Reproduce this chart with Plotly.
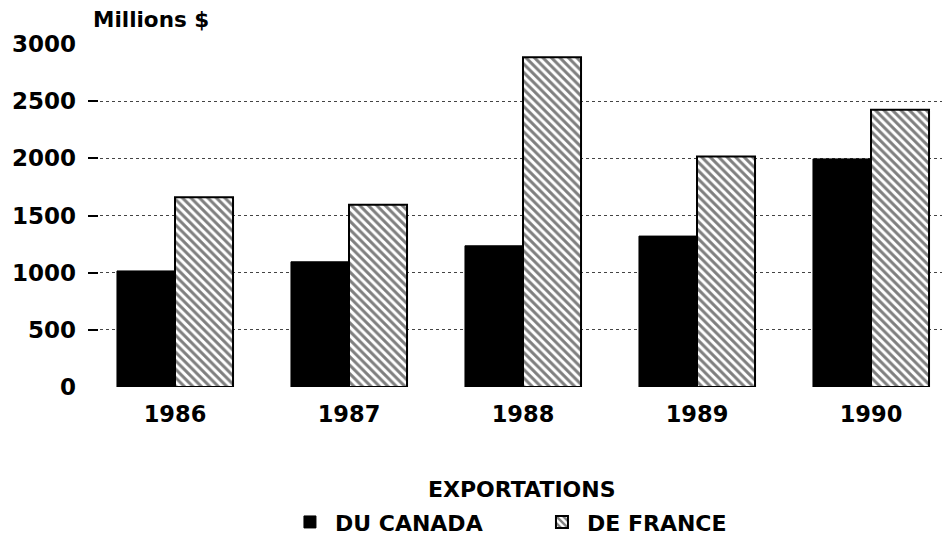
import plotly.graph_objects as go

years = ["1986", "1987", "1988", "1989", "1990"]
canada = [1015, 1095, 1235, 1320, 1995]
france = [1660, 1595, 2885, 2015, 2425]
y_ticks = [0, 500, 1000, 1500, 2000, 2500, 3000]

FONT = "DejaVu Sans"

fig = go.Figure()
fig.add_trace(go.Bar(
    x=years, y=canada, name="DU CANADA",
    marker=dict(color="black", line=dict(color="black", width=1)),
))
fig.add_trace(go.Bar(
    x=years, y=france, name="DE FRANCE",
    marker=dict(color="white", line=dict(color="black", width=2),
                pattern=dict(shape="\\", size=6, solidity=0.5,
                             fgcolor="black", bgcolor="white")),
))

fig.update_layout(
    width=950, height=551,
    margin=dict(l=80, r=0, t=36, b=172),
    paper_bgcolor="white", plot_bgcolor="white",
    barmode="group", bargap=0.333, bargroupgap=0,
    font=dict(family=FONT, size=22, color="black", weight="bold"),
    showlegend=True,
    legend=dict(orientation="h", x=0.2264, xanchor="left", y=-0.394, yanchor="middle",
                font=dict(family=FONT, size=22, color="black", weight="bold"),
                itemwidth=40, entrywidth=197, traceorder="normal"),
    xaxis=dict(range=[-0.5, 4.5], showgrid=False, showline=False, ticks="",
               zeroline=False, ticklabelstandoff=11,
               tickfont=dict(family=FONT, size=22.5, color="black", weight="bold")),
    yaxis=dict(range=[0, 3000], tickvals=y_ticks, showline=False,
               showgrid=True, gridcolor="#444", gridwidth=1, griddash="dot",
               zeroline=False, ticks="inside", ticklen=10, tickwidth=2, tickcolor="black",
               ticklabelstandoff=11,
               tickfont=dict(family=FONT, size=23, color="black", weight="bold")),
    annotations=[
        dict(text="Millions $", xref="paper", yref="paper", x=0, y=1.071, xshift=3,
             xanchor="left", yanchor="middle", showarrow=False,
             font=dict(family=FONT, size=21.5, color="black", weight="bold")),
        dict(text="EXPORTATIONS", xref="paper", yref="paper", x=0.4985, y=-0.300,
             xanchor="center", yanchor="middle", showarrow=False,
             font=dict(family=FONT, size=22, color="black", weight="bold")),
    ],
)

fig.write_html("out.html")
